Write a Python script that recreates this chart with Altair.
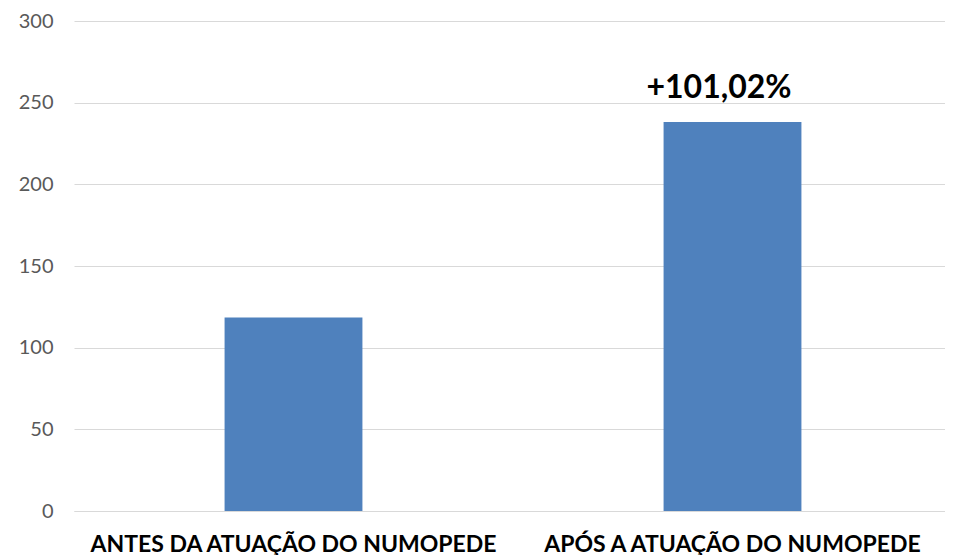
import altair as alt
import pandas as pd

categories = ["ANTES DA ATUAÇÃO DO NUMOPEDE", "APÓS A ATUAÇÃO DO NUMOPEDE"]
values = [118.5, 238.2]
labels = ["", "+101,02%"]

df = pd.DataFrame({"cat": categories, "val": values, "lab": labels})

x = alt.X("cat:N", sort=categories, title=None,
          scale=alt.Scale(range=[-1, 877], paddingInner=0.686, paddingOuter=0.343),
          axis=alt.Axis(labelAngle=0, labelFont="Lato", labelFontWeight="bold",
                        labelFontSize=23, labelColor="#000000", labelPadding=22,
                        ticks=False, domainColor="#d9d9d9", domainWidth=1,
                        labelLimit=500))
y = alt.Y("val:Q", title=None,
          scale=alt.Scale(domain=[0, 300], nice=False),
          axis=alt.Axis(values=[0, 50, 100, 150, 200, 250, 300], domain=False, ticks=False,
                        labelFont="Lato", labelFontSize=20, labelColor="#595959",
                        labelPadding=22, gridColor="#d9d9d9", gridWidth=1))

bars = alt.Chart(df).mark_bar(color="#4f81bd").encode(x=x, y=y)
text = alt.Chart(df).mark_text(font="Lato", fontWeight="bold", fontSize=32,
                               color="#000000", baseline="alphabetic", dy=-24, dx=-13.5).encode(
    x=alt.X("cat:N", sort=categories), y=alt.Y("val:Q"), text="lab:N")

chart = (bars + text).properties(
    width=865, height=490,
    autosize=alt.AutoSizeParams(type="none"),
    padding={"left": 67, "top": 13, "right": 5, "bottom": 44},
).configure_view(stroke=None)

chart.save("out.html", embed_options={"renderer": "svg", "actions": False})
